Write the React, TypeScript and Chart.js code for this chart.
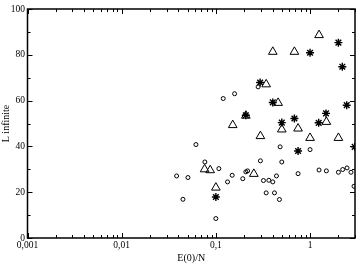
import React, { useEffect, useRef } from "react";
import { Chart, registerables } from "chart.js";

Chart.register(...registerables);

const circleX = [0.0383, 0.0447, 0.0505, 0.0614, 0.0764, 0.1, 0.1076, 0.1197, 0.133, 0.149, 0.158, 0.193, 0.208, 0.217, 0.281, 0.297, 0.32, 0.342, 0.365, 0.402, 0.419, 0.44, 0.473, 0.481, 0.501, 0.746, 1.0, 1.246, 1.49, 2.0, 2.22, 2.47, 2.72, 2.93];
const circleY = [27.1, 16.9, 26.4, 40.8, 33.2, 8.5, 30.3, 60.9, 24.5, 27.4, 63.0, 25.9, 28.9, 29.3, 66.0, 33.7, 25.1, 19.7, 25.2, 24.5, 19.7, 27.1, 16.8, 39.8, 33.2, 28.1, 38.6, 29.7, 29.3, 28.7, 29.9, 30.6, 28.7, 22.6];

const triangleX = [1.246, 0.402, 0.682, 0.342, 0.458, 0.208, 0.151, 1.49, 0.501, 0.746, 0.297, 1.0, 2.0, 0.0759, 0.087, 0.253, 0.1];
const triangleY = [88.6, 81.3, 81.3, 67.1, 59.0, 53.4, 49.3, 50.7, 47.4, 47.8, 44.5, 43.7, 43.7, 30.0, 29.6, 28.0, 22.0];

const starX = [2.0, 1.0, 2.2, 0.295, 0.402, 2.45, 0.208, 1.477, 0.682, 0.501, 1.235, 2.975, 0.746, 0.1];
const starY = [85.3, 80.9, 74.8, 67.9, 59.2, 58.0, 53.6, 54.4, 52.2, 50.4, 50.3, 39.8, 38.0, 17.9];

const xTickValues = [0.001, 0.01, 0.1, 1];
const xTickLabels = ["0,001", "0,01", "0,1", "1"];
const yTickValues = [0, 20, 40, 60, 80, 100];
const yMinorValues = [10, 30, 50, 70, 90];
const minorMultipliers = [2, 3, 4, 5, 6, 7, 8, 9];

const FONT = "'Liberation Serif', 'DejaVu Serif', serif";

const toPoints = (xs: number[], ys: number[]) => xs.map((x, i) => ({ x, y: ys[i] }));

const inwardTicks = {
  id: "inwardTicks",
  afterDraw(chart: any) {
    const { ctx, chartArea, scales } = chart;
    const { left, right, top, bottom } = chartArea;
    const x = scales.x;
    const y = scales.y;
    ctx.save();
    ctx.strokeStyle = "#000";
    ctx.lineWidth = 1;
    const vline = (px: number, len: number) => {
      ctx.beginPath();
      ctx.moveTo(px, bottom);
      ctx.lineTo(px, bottom - len);
      ctx.moveTo(px, top);
      ctx.lineTo(px, top + len);
      ctx.stroke();
    };
    const hline = (py: number, len: number) => {
      ctx.beginPath();
      ctx.moveTo(left, py);
      ctx.lineTo(left + len, py);
      ctx.moveTo(right, py);
      ctx.lineTo(right - len, py);
      ctx.stroke();
    };
    xTickValues.forEach((d) => {
      vline(Math.round(x.getPixelForValue(d)) + 0.5, 5);
      minorMultipliers.forEach((m) => {
        const v = d * m;
        if (v <= x.max) vline(Math.round(x.getPixelForValue(v)) + 0.5, 3);
      });
    });
    yTickValues.forEach((v) => hline(Math.round(y.getPixelForValue(v)) + 0.5, 5));
    yMinorValues.forEach((v) => hline(Math.round(y.getPixelForValue(v)) + 0.5, 3));
    ctx.lineWidth = 1.5;
    ctx.strokeRect(left, top, right - left, bottom - top);
    ctx.restore();
  },
};

export default function App() {
  const ref = useRef<HTMLCanvasElement>(null);
  useEffect(() => {
    document.body.style.margin = "0";
    const canvas = ref.current!;
    const chart = new Chart(canvas, {
      type: "scatter",
      data: {
        datasets: [
          {
            label: "stars",
            data: toPoints(starX, starY),
            pointStyle: "star",
            pointRadius: 4,
            borderWidth: 1.4,
            borderColor: "#000",
            backgroundColor: "#000",
          },
          {
            label: "triangles",
            data: toPoints(triangleX, triangleY),
            pointStyle: "triangle",
            pointRadius: 5,
            borderWidth: 1,
            borderColor: "#000",
            backgroundColor: "rgba(255,255,255,0)",
          },
          {
            label: "circles",
            data: toPoints(circleX, circleY),
            pointStyle: "circle",
            pointRadius: 2,
            borderWidth: 1,
            borderColor: "#000",
            backgroundColor: "rgba(255,255,255,0)",
          },
        ],
      },
      options: {
        animation: false,
        responsive: false,
        layout: { padding: { left: 0, right: 6, top: 9, bottom: 0 } },
        plugins: { legend: { display: false }, tooltip: { enabled: false } },
        scales: {
          x: {
            type: "logarithmic",
            min: 0.001,
            max: 3,
            grid: { display: false, drawTicks: false },
            border: { display: false },
            afterBuildTicks: (scale: any) => {
              scale.ticks = xTickValues.map((v) => ({ value: v }));
            },
            afterFit: (scale: any) => {
              scale.height = 26;
            },
            ticks: {
              autoSkip: false,
              maxRotation: 0,
              padding: 2,
              color: "#000",
              font: { family: FONT, size: 9.5 },
              callback: (v: any) => {
                const i = xTickValues.findIndex((t) => Math.abs(t - Number(v)) < 1e-9);
                return i >= 0 ? xTickLabels[i] : "";
              },
            },
            title: {
              display: true,
              text: "E(0)/N",
              color: "#000",
              padding: 0,
              font: { family: FONT, size: 10 },
            },
          },
          y: {
            min: 0,
            max: 100,
            grid: { display: false, drawTicks: false },
            border: { display: false },
            afterBuildTicks: (scale: any) => {
              scale.ticks = yTickValues.map((v) => ({ value: v }));
            },
            afterFit: (scale: any) => {
              scale.width = 27.5;
            },
            ticks: {
              padding: 2.5,
              color: "#000",
              font: { family: FONT, size: 9.5 },
            },
            title: {
              display: true,
              text: "L infinite",
              color: "#000",
              padding: 0,
              font: { family: FONT, size: 10 },
            },
          },
        },
      },
      plugins: [inwardTicks],
    });
    return () => chart.destroy();
  }, []);
  return (
    <div style={{ width: 361, height: 264 }}>
      <canvas ref={ref} width={361} height={264} style={{ display: "block" }} />
    </div>
  );
}
